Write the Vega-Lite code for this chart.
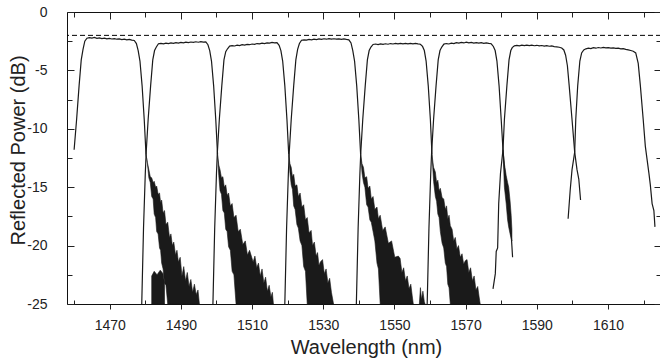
{
  "$schema": "https://vega.github.io/schema/vega-lite/v6.json",
  "width": 594,
  "height": 292,
  "autosize": {"type": "none"},
  "padding": {"left": 67, "top": 12, "right": 0, "bottom": 54},
  "datasets": {
    "lines": [
      {"c":1,"x":1460.0,"y":-11.8},{"c":1,"x":1460.7,"y":-9.2},{"c":1,"x":1461.4,"y":-6.3},{"c":1,"x":1462.0,"y":-4.1},{"c":1,"x":1462.5,"y":-3.2},{"c":1,"x":1463.0,"y":-2.5},
      {"c":1,"x":1463.6,"y":-2.24},{"c":1,"x":1464.3,"y":-2.19},{"c":1,"x":1465.0,"y":-2.23},{"c":1,"x":1465.7,"y":-2.18},{"c":1,"x":1466.4,"y":-2.25},{"c":1,"x":1467.1,"y":-2.21},{"c":1,"x":1467.8,"y":-2.27},{"c":1,"x":1468.5,"y":-2.24},{"c":1,"x":1469.2,"y":-2.3},{"c":1,"x":1469.9,"y":-2.26},{"c":1,"x":1470.6,"y":-2.31},{"c":1,"x":1471.3,"y":-2.28},{"c":1,"x":1472.0,"y":-2.33},{"c":1,"x":1472.7,"y":-2.3},{"c":1,"x":1473.4,"y":-2.36},{"c":1,"x":1474.1,"y":-2.33},{"c":1,"x":1474.8,"y":-2.38},{"c":1,"x":1475.5,"y":-2.35},{"c":1,"x":1476.2,"y":-2.41},{"c":1,"x":1476.9,"y":-2.44},
      {"c":1,"x":1477.5,"y":-2.7},{"c":1,"x":1478.0,"y":-3.3},{"c":1,"x":1478.5,"y":-4.2},{"c":1,"x":1479.1,"y":-6.3},{"c":1,"x":1479.7,"y":-9.2},{"c":1,"x":1480.2,"y":-12.2},

      {"c":2,"x":1479.0,"y":-25},{"c":2,"x":1479.5,"y":-18.5},{"c":2,"x":1480.0,"y":-13.8},{"c":2,"x":1480.25,"y":-12},{"c":2,"x":1480.8,"y":-9.2},{"c":2,"x":1481.5,"y":-6.3},{"c":2,"x":1482.1,"y":-4.1},{"c":2,"x":1482.6,"y":-3.3},{"c":2,"x":1483.1,"y":-3.0},
      {"c":2,"x":1483.7,"y":-2.72},{"c":2,"x":1484.4,"y":-2.68},{"c":2,"x":1485.1,"y":-2.73},{"c":2,"x":1485.8,"y":-2.66},{"c":2,"x":1486.5,"y":-2.7},{"c":2,"x":1487.2,"y":-2.64},{"c":2,"x":1487.9,"y":-2.68},{"c":2,"x":1488.6,"y":-2.62},{"c":2,"x":1489.3,"y":-2.66},{"c":2,"x":1490.0,"y":-2.6},{"c":2,"x":1490.7,"y":-2.64},{"c":2,"x":1491.4,"y":-2.58},{"c":2,"x":1492.1,"y":-2.62},{"c":2,"x":1492.8,"y":-2.57},{"c":2,"x":1493.5,"y":-2.6},{"c":2,"x":1494.2,"y":-2.55},{"c":2,"x":1494.9,"y":-2.59},{"c":2,"x":1495.6,"y":-2.54},{"c":2,"x":1496.3,"y":-2.58},{"c":2,"x":1497.0,"y":-2.56},
      {"c":2,"x":1497.6,"y":-2.8},{"c":2,"x":1498.1,"y":-3.3},{"c":2,"x":1498.6,"y":-4.2},{"c":2,"x":1499.2,"y":-6.3},{"c":2,"x":1499.8,"y":-9.2},{"c":2,"x":1500.3,"y":-12.2},

      {"c":3,"x":1499.0,"y":-25},{"c":3,"x":1499.5,"y":-18.5},{"c":3,"x":1500.0,"y":-13.8},{"c":3,"x":1500.25,"y":-12},{"c":3,"x":1500.8,"y":-9.2},{"c":3,"x":1501.5,"y":-6.3},{"c":3,"x":1502.1,"y":-4.1},{"c":3,"x":1502.6,"y":-3.4},{"c":3,"x":1503.1,"y":-3.15},
      {"c":3,"x":1503.7,"y":-2.92},{"c":3,"x":1504.4,"y":-2.88},{"c":3,"x":1505.1,"y":-2.91},{"c":3,"x":1505.8,"y":-2.84},{"c":3,"x":1506.5,"y":-2.87},{"c":3,"x":1507.2,"y":-2.8},{"c":3,"x":1507.9,"y":-2.83},{"c":3,"x":1508.6,"y":-2.77},{"c":3,"x":1509.3,"y":-2.8},{"c":3,"x":1510.0,"y":-2.74},{"c":3,"x":1510.7,"y":-2.77},{"c":3,"x":1511.4,"y":-2.7},{"c":3,"x":1512.1,"y":-2.73},{"c":3,"x":1512.8,"y":-2.67},{"c":3,"x":1513.5,"y":-2.7},{"c":3,"x":1514.2,"y":-2.64},{"c":3,"x":1514.9,"y":-2.67},{"c":3,"x":1515.6,"y":-2.61},{"c":3,"x":1516.3,"y":-2.64},{"c":3,"x":1517.0,"y":-2.62},
      {"c":3,"x":1517.6,"y":-2.85},{"c":3,"x":1518.1,"y":-3.3},{"c":3,"x":1518.6,"y":-4.2},{"c":3,"x":1519.2,"y":-6.3},{"c":3,"x":1519.8,"y":-9.2},{"c":3,"x":1520.3,"y":-12.2},

      {"c":4,"x":1519.2,"y":-25},{"c":4,"x":1519.7,"y":-18.5},{"c":4,"x":1520.2,"y":-13.8},{"c":4,"x":1520.45,"y":-12},{"c":4,"x":1521.0,"y":-9.2},{"c":4,"x":1521.7,"y":-6.3},{"c":4,"x":1522.3,"y":-4.1},{"c":4,"x":1522.8,"y":-3.2},{"c":4,"x":1523.3,"y":-2.7},
      {"c":4,"x":1523.9,"y":-2.42},{"c":4,"x":1524.6,"y":-2.38},{"c":4,"x":1525.3,"y":-2.41},{"c":4,"x":1526.0,"y":-2.35},{"c":4,"x":1526.7,"y":-2.38},{"c":4,"x":1527.4,"y":-2.33},{"c":4,"x":1528.1,"y":-2.36},{"c":4,"x":1528.8,"y":-2.3},{"c":4,"x":1529.5,"y":-2.34},{"c":4,"x":1530.2,"y":-2.29},{"c":4,"x":1530.9,"y":-2.33},{"c":4,"x":1531.6,"y":-2.28},{"c":4,"x":1532.3,"y":-2.32},{"c":4,"x":1533.0,"y":-2.29},{"c":4,"x":1533.7,"y":-2.33},{"c":4,"x":1534.4,"y":-2.3},{"c":4,"x":1535.1,"y":-2.34},{"c":4,"x":1535.8,"y":-2.31},{"c":4,"x":1536.5,"y":-2.35},{"c":4,"x":1537.2,"y":-2.38},
      {"c":4,"x":1537.8,"y":-2.65},{"c":4,"x":1538.3,"y":-3.3},{"c":4,"x":1538.8,"y":-4.2},{"c":4,"x":1539.4,"y":-6.3},{"c":4,"x":1540.0,"y":-9.2},{"c":4,"x":1540.5,"y":-12.2},

      {"c":5,"x":1539.3,"y":-25},{"c":5,"x":1539.8,"y":-18.5},{"c":5,"x":1540.3,"y":-13.8},{"c":5,"x":1540.55,"y":-12},{"c":5,"x":1541.1,"y":-9.2},{"c":5,"x":1541.8,"y":-6.3},{"c":5,"x":1542.4,"y":-4.1},{"c":5,"x":1542.9,"y":-3.3},{"c":5,"x":1543.4,"y":-3.0},
      {"c":5,"x":1544.0,"y":-2.78},{"c":5,"x":1544.7,"y":-2.74},{"c":5,"x":1545.4,"y":-2.79},{"c":5,"x":1546.1,"y":-2.73},{"c":5,"x":1546.8,"y":-2.77},{"c":5,"x":1547.5,"y":-2.72},{"c":5,"x":1548.2,"y":-2.76},{"c":5,"x":1548.9,"y":-2.7},{"c":5,"x":1549.6,"y":-2.74},{"c":5,"x":1550.3,"y":-2.69},{"c":5,"x":1551.0,"y":-2.73},{"c":5,"x":1551.7,"y":-2.68},{"c":5,"x":1552.4,"y":-2.72},{"c":5,"x":1553.1,"y":-2.69},{"c":5,"x":1553.8,"y":-2.73},{"c":5,"x":1554.5,"y":-2.68},{"c":5,"x":1555.2,"y":-2.72},{"c":5,"x":1555.9,"y":-2.69},{"c":5,"x":1556.6,"y":-2.73},{"c":5,"x":1557.3,"y":-2.76},
      {"c":5,"x":1557.9,"y":-2.95},{"c":5,"x":1558.4,"y":-3.3},{"c":5,"x":1558.9,"y":-4.2},{"c":5,"x":1559.5,"y":-6.3},{"c":5,"x":1560.1,"y":-9.2},{"c":5,"x":1560.55,"y":-12.2},

      {"c":6,"x":1559.2,"y":-25},{"c":6,"x":1559.7,"y":-18.5},{"c":6,"x":1560.2,"y":-13.8},{"c":6,"x":1560.45,"y":-12},{"c":6,"x":1561.0,"y":-9.2},{"c":6,"x":1561.7,"y":-6.3},{"c":6,"x":1562.3,"y":-4.1},{"c":6,"x":1562.8,"y":-3.3},{"c":6,"x":1563.3,"y":-3.0},
      {"c":6,"x":1563.9,"y":-2.75},{"c":6,"x":1564.6,"y":-2.7},{"c":6,"x":1565.3,"y":-2.74},{"c":6,"x":1566.0,"y":-2.66},{"c":6,"x":1566.7,"y":-2.7},{"c":6,"x":1567.4,"y":-2.62},{"c":6,"x":1568.1,"y":-2.67},{"c":6,"x":1568.8,"y":-2.6},{"c":6,"x":1569.5,"y":-2.65},{"c":6,"x":1570.2,"y":-2.58},{"c":6,"x":1570.9,"y":-2.64},{"c":6,"x":1571.6,"y":-2.6},{"c":6,"x":1572.3,"y":-2.66},{"c":6,"x":1573.0,"y":-2.62},{"c":6,"x":1573.7,"y":-2.67},{"c":6,"x":1574.4,"y":-2.63},{"c":6,"x":1575.1,"y":-2.68},{"c":6,"x":1575.8,"y":-2.65},{"c":6,"x":1576.5,"y":-2.69},{"c":6,"x":1577.2,"y":-2.72},
      {"c":6,"x":1577.8,"y":-2.95},{"c":6,"x":1578.3,"y":-3.3},{"c":6,"x":1578.8,"y":-4.2},{"c":6,"x":1579.4,"y":-6.3},{"c":6,"x":1580.0,"y":-9.2},{"c":6,"x":1580.5,"y":-11.8},
      {"c":6,"x":1581.2,"y":-14.5},{"c":6,"x":1582.0,"y":-16.8},{"c":6,"x":1582.8,"y":-19.0},{"c":6,"x":1583.0,"y":-20.0},{"c":6,"x":1583.2,"y":-21.0},

      {"c":7,"x":1577.7,"y":-23.7},{"c":7,"x":1578.35,"y":-22.4},{"c":7,"x":1578.6,"y":-20.5},{"c":7,"x":1579.0,"y":-20.2},{"c":7,"x":1579.3,"y":-16.4},{"c":7,"x":1579.8,"y":-13.8},{"c":7,"x":1580.5,"y":-11.8},{"c":7,"x":1580.9,"y":-9.2},{"c":7,"x":1581.6,"y":-6.3},{"c":7,"x":1582.2,"y":-4.1},{"c":7,"x":1582.7,"y":-3.3},{"c":7,"x":1583.1,"y":-3.05},
      {"c":7,"x":1583.7,"y":-2.9},{"c":7,"x":1584.4,"y":-2.86},{"c":7,"x":1585.1,"y":-2.9},{"c":7,"x":1585.8,"y":-2.84},{"c":7,"x":1586.5,"y":-2.88},{"c":7,"x":1587.2,"y":-2.83},{"c":7,"x":1587.9,"y":-2.87},{"c":7,"x":1588.6,"y":-2.84},{"c":7,"x":1589.3,"y":-2.89},{"c":7,"x":1590.0,"y":-2.85},{"c":7,"x":1590.7,"y":-2.9},{"c":7,"x":1591.4,"y":-2.87},{"c":7,"x":1592.1,"y":-2.92},{"c":7,"x":1592.8,"y":-2.88},{"c":7,"x":1593.5,"y":-2.93},{"c":7,"x":1594.2,"y":-2.9},{"c":7,"x":1594.9,"y":-2.96},{"c":7,"x":1595.6,"y":-2.98},{"c":7,"x":1596.3,"y":-3.02},{"c":7,"x":1597.0,"y":-3.08},
      {"c":7,"x":1597.6,"y":-3.25},{"c":7,"x":1598.1,"y":-3.7},{"c":7,"x":1598.6,"y":-4.6},{"c":7,"x":1599.1,"y":-6.3},{"c":7,"x":1599.9,"y":-9.2},{"c":7,"x":1600.65,"y":-12.0},{"c":7,"x":1601.3,"y":-13.5},{"c":7,"x":1601.8,"y":-14.3},{"c":7,"x":1602.3,"y":-16.1},

      {"c":8,"x":1598.8,"y":-17.7},{"c":8,"x":1599.4,"y":-15.2},{"c":8,"x":1599.9,"y":-13.5},{"c":8,"x":1600.65,"y":-12.0},{"c":8,"x":1600.95,"y":-9.2},{"c":8,"x":1601.5,"y":-6.3},{"c":8,"x":1602.1,"y":-4.2},{"c":8,"x":1602.6,"y":-3.5},{"c":8,"x":1603.2,"y":-3.25},
      {"c":8,"x":1603.8,"y":-3.15},{"c":8,"x":1604.5,"y":-3.1},{"c":8,"x":1605.2,"y":-3.14},{"c":8,"x":1605.9,"y":-3.06},{"c":8,"x":1606.6,"y":-3.1},{"c":8,"x":1607.3,"y":-3.04},{"c":8,"x":1608.0,"y":-3.08},{"c":8,"x":1608.7,"y":-3.03},{"c":8,"x":1609.4,"y":-3.07},{"c":8,"x":1610.1,"y":-3.05},{"c":8,"x":1610.8,"y":-3.1},{"c":8,"x":1611.5,"y":-3.07},{"c":8,"x":1612.2,"y":-3.12},{"c":8,"x":1612.9,"y":-3.1},{"c":8,"x":1613.6,"y":-3.15},{"c":8,"x":1614.3,"y":-3.14},{"c":8,"x":1615.0,"y":-3.2},{"c":8,"x":1615.7,"y":-3.24},{"c":8,"x":1616.4,"y":-3.3},{"c":8,"x":1617.1,"y":-3.36},
      {"c":8,"x":1617.8,"y":-3.5},{"c":8,"x":1618.5,"y":-4.4},{"c":8,"x":1619.1,"y":-6.3},{"c":8,"x":1619.9,"y":-9.2},{"c":8,"x":1620.5,"y":-11.5},{"c":8,"x":1621.5,"y":-13.8},{"c":8,"x":1621.9,"y":-14.8},{"c":8,"x":1622.4,"y":-16.4},{"c":8,"x":1622.9,"y":-17.0},{"c":8,"x":1623.2,"y":-18.4}
    ],
    "tails": [
      {"g":"1","x":1480.2,"lo":-12.2,"hi":-12.2},{"g":"1","x":1480.6,"lo":-13.0,"hi":-12.9},{"g":"1","x":1481.0,"lo":-14.2,"hi":-13.5},{"g":"1","x":1481.4,"lo":-14.6,"hi":-14.1},{"g":"1","x":1481.8,"lo":-15.8,"hi":-14.2},{"g":"1","x":1482.2,"lo":-16.0,"hi":-14.6},{"g":"1","x":1482.5,"lo":-17.3,"hi":-14.5},{"g":"1","x":1482.9,"lo":-17.6,"hi":-15.0},{"g":"1","x":1483.2,"lo":-18.8,"hi":-14.9},{"g":"1","x":1483.6,"lo":-19.0,"hi":-15.6},{"g":"1","x":1484.0,"lo":-20.2,"hi":-15.5},{"g":"1","x":1484.3,"lo":-20.4,"hi":-16.3},{"g":"1","x":1484.6,"lo":-21.5,"hi":-16.1},{"g":"1","x":1485.0,"lo":-22.0,"hi":-17.2},{"g":"1","x":1485.4,"lo":-23.2,"hi":-17.0},{"g":"1","x":1485.8,"lo":-23.4,"hi":-18.2},{"g":"1","x":1486.3,"lo":-25,"hi":-18.0},{"g":"1","x":1486.8,"lo":-25,"hi":-19.3},{"g":"1","x":1487.2,"lo":-25,"hi":-19.0},{"g":"1","x":1487.6,"lo":-25,"hi":-20.0},{"g":"1","x":1488.0,"lo":-25,"hi":-19.7},{"g":"1","x":1488.5,"lo":-25,"hi":-20.8},{"g":"1","x":1488.9,"lo":-25,"hi":-20.4},{"g":"1","x":1489.3,"lo":-25,"hi":-21.4},{"g":"1","x":1489.8,"lo":-25,"hi":-21.0},{"g":"1","x":1490.3,"lo":-25,"hi":-22.6},{"g":"1","x":1490.8,"lo":-25,"hi":-21.8},{"g":"1","x":1491.3,"lo":-25,"hi":-23.0},{"g":"1","x":1491.8,"lo":-25,"hi":-22.3},{"g":"1","x":1492.3,"lo":-25,"hi":-23.5},{"g":"1","x":1492.8,"lo":-25,"hi":-22.9},{"g":"1","x":1493.3,"lo":-25,"hi":-24.0},{"g":"1","x":1493.8,"lo":-25,"hi":-23.3},{"g":"1","x":1494.3,"lo":-25,"hi":-24.2},{"g":"1","x":1494.8,"lo":-25,"hi":-23.8},{"g":"1","x":1495.2,"lo":-25,"hi":-25},
      {"g":"1b","x":1481.8,"lo":-25,"hi":-22.6},{"g":"1b","x":1482.5,"lo":-25,"hi":-22.2},{"g":"1b","x":1483.3,"lo":-25,"hi":-22.5},{"g":"1b","x":1484.2,"lo":-25,"hi":-22.1},{"g":"1b","x":1485.0,"lo":-25,"hi":-22.4},{"g":"1b","x":1485.4,"lo":-25,"hi":-23.2},
      {"g":"2","x":1500.3,"lo":-12.2,"hi":-12.2},{"g":"2","x":1500.65,"lo":-14.0,"hi":-13.1},{"g":"2","x":1501.0,"lo":-15.3,"hi":-13.5},{"g":"2","x":1501.4,"lo":-15.6,"hi":-14.2},{"g":"2","x":1501.8,"lo":-17.0,"hi":-14.1},{"g":"2","x":1502.2,"lo":-17.2,"hi":-15.0},{"g":"2","x":1502.6,"lo":-18.6,"hi":-14.8},{"g":"2","x":1503.0,"lo":-18.8,"hi":-15.7},{"g":"2","x":1503.4,"lo":-20.1,"hi":-15.5},{"g":"2","x":1503.9,"lo":-20.4,"hi":-16.6},{"g":"2","x":1504.4,"lo":-22.2,"hi":-16.4},{"g":"2","x":1504.9,"lo":-22.5,"hi":-17.6},{"g":"2","x":1505.5,"lo":-25,"hi":-17.4},{"g":"2","x":1506.1,"lo":-25,"hi":-18.8},{"g":"2","x":1506.7,"lo":-25,"hi":-18.6},{"g":"2","x":1507.4,"lo":-25,"hi":-19.9},{"g":"2","x":1508.1,"lo":-25,"hi":-19.6},{"g":"2","x":1508.7,"lo":-25,"hi":-20.8},{"g":"2","x":1509.3,"lo":-25,"hi":-20.4},{"g":"2","x":1510.3,"lo":-25,"hi":-21.4},{"g":"2","x":1510.8,"lo":-25,"hi":-20.9},{"g":"2","x":1511.3,"lo":-25,"hi":-21.9},{"g":"2","x":1511.8,"lo":-25,"hi":-21.5},{"g":"2","x":1512.3,"lo":-25,"hi":-22.6},{"g":"2","x":1512.8,"lo":-25,"hi":-22.0},{"g":"2","x":1513.3,"lo":-25,"hi":-23.2},{"g":"2","x":1513.8,"lo":-25,"hi":-22.7},{"g":"2","x":1514.3,"lo":-25,"hi":-23.9},{"g":"2","x":1514.8,"lo":-25,"hi":-23.4},{"g":"2","x":1515.3,"lo":-25,"hi":-24.4},{"g":"2","x":1515.7,"lo":-25,"hi":-24.0},{"g":"2","x":1516.0,"lo":-25,"hi":-25},
      {"g":"3","x":1520.3,"lo":-12.2,"hi":-12.2},{"g":"3","x":1520.65,"lo":-13.8,"hi":-13.0},{"g":"3","x":1521.0,"lo":-14.8,"hi":-13.3},{"g":"3","x":1521.35,"lo":-15.2,"hi":-14.1},{"g":"3","x":1521.7,"lo":-16.6,"hi":-13.9},{"g":"3","x":1522.1,"lo":-16.9,"hi":-14.9},{"g":"3","x":1522.6,"lo":-18.2,"hi":-14.8},{"g":"3","x":1523.0,"lo":-18.5,"hi":-15.8},{"g":"3","x":1523.5,"lo":-19.6,"hi":-15.5},{"g":"3","x":1524.0,"lo":-20.0,"hi":-16.7},{"g":"3","x":1524.5,"lo":-21.8,"hi":-16.5},{"g":"3","x":1525.0,"lo":-22.2,"hi":-17.8},{"g":"3","x":1525.5,"lo":-25,"hi":-17.6},{"g":"3","x":1526.0,"lo":-25,"hi":-18.9},{"g":"3","x":1526.6,"lo":-25,"hi":-18.7},{"g":"3","x":1527.0,"lo":-25,"hi":-20.0},{"g":"3","x":1527.5,"lo":-25,"hi":-19.7},{"g":"3","x":1528.0,"lo":-25,"hi":-20.9},{"g":"3","x":1528.4,"lo":-25,"hi":-20.6},{"g":"3","x":1528.8,"lo":-25,"hi":-21.7},{"g":"3","x":1529.2,"lo":-25,"hi":-21.4},{"g":"3","x":1529.8,"lo":-25,"hi":-21.2},{"g":"3","x":1530.3,"lo":-25,"hi":-22.4},{"g":"3","x":1530.8,"lo":-25,"hi":-22.0},{"g":"3","x":1531.3,"lo":-25,"hi":-23.2},{"g":"3","x":1531.8,"lo":-25,"hi":-22.8},{"g":"3","x":1532.3,"lo":-25,"hi":-24.0},{"g":"3","x":1532.9,"lo":-25,"hi":-25},
      {"g":"4","x":1540.5,"lo":-12.2,"hi":-12.2},{"g":"4","x":1540.9,"lo":-13.8,"hi":-13.0},{"g":"4","x":1541.3,"lo":-14.6,"hi":-13.3},{"g":"4","x":1541.7,"lo":-15.0,"hi":-14.2},{"g":"4","x":1542.2,"lo":-16.5,"hi":-14.1},{"g":"4","x":1542.6,"lo":-16.7,"hi":-15.1},{"g":"4","x":1543.1,"lo":-17.8,"hi":-14.9},{"g":"4","x":1543.5,"lo":-18.0,"hi":-16.0},{"g":"4","x":1544.0,"lo":-18.8,"hi":-15.8},{"g":"4","x":1544.5,"lo":-19.6,"hi":-16.9},{"g":"4","x":1545.1,"lo":-21.5,"hi":-16.7},{"g":"4","x":1545.5,"lo":-22.0,"hi":-17.7},{"g":"4","x":1546.0,"lo":-25,"hi":-17.4},{"g":"4","x":1546.7,"lo":-25,"hi":-18.7},{"g":"4","x":1547.4,"lo":-25,"hi":-18.4},{"g":"4","x":1548.3,"lo":-25,"hi":-19.8},{"g":"4","x":1549.2,"lo":-25,"hi":-19.6},{"g":"4","x":1550.1,"lo":-25,"hi":-21.0},{"g":"4","x":1551.1,"lo":-25,"hi":-20.9},{"g":"4","x":1551.6,"lo":-25,"hi":-21.1},{"g":"4","x":1552.1,"lo":-25,"hi":-22.3},{"g":"4","x":1552.6,"lo":-25,"hi":-21.9},{"g":"4","x":1553.1,"lo":-25,"hi":-23.0},{"g":"4","x":1553.6,"lo":-25,"hi":-22.6},{"g":"4","x":1554.1,"lo":-25,"hi":-23.7},{"g":"4","x":1554.6,"lo":-25,"hi":-23.3},{"g":"4","x":1555.0,"lo":-25,"hi":-24.3},{"g":"4","x":1555.3,"lo":-25,"hi":-25},
      {"g":"4b","x":1557.0,"lo":-25,"hi":-25},{"g":"4b","x":1557.3,"lo":-25,"hi":-23.6},{"g":"4b","x":1557.6,"lo":-25,"hi":-24.6},{"g":"4b","x":1558.0,"lo":-25,"hi":-23.9},{"g":"4b","x":1558.4,"lo":-25,"hi":-24.8},{"g":"4b","x":1558.6,"lo":-25,"hi":-25},
      {"g":"5","x":1560.55,"lo":-12.2,"hi":-12.2},{"g":"5","x":1561.0,"lo":-14.5,"hi":-13.3},{"g":"5","x":1561.5,"lo":-15.8,"hi":-13.7},{"g":"5","x":1561.85,"lo":-16.2,"hi":-14.6},{"g":"5","x":1562.2,"lo":-17.3,"hi":-14.4},{"g":"5","x":1562.55,"lo":-17.6,"hi":-15.3},{"g":"5","x":1562.9,"lo":-18.8,"hi":-15.1},{"g":"5","x":1563.4,"lo":-19.8,"hi":-15.9},{"g":"5","x":1563.85,"lo":-20.2,"hi":-16.0},{"g":"5","x":1564.3,"lo":-21.5,"hi":-16.9},{"g":"5","x":1564.65,"lo":-21.8,"hi":-16.6},{"g":"5","x":1565.0,"lo":-23.3,"hi":-17.7},{"g":"5","x":1565.35,"lo":-23.6,"hi":-17.4},{"g":"5","x":1565.7,"lo":-25,"hi":-18.3},{"g":"5","x":1566.2,"lo":-25,"hi":-18.6},{"g":"5","x":1566.65,"lo":-25,"hi":-19.6},{"g":"5","x":1567.1,"lo":-25,"hi":-19.3},{"g":"5","x":1567.55,"lo":-25,"hi":-20.3},{"g":"5","x":1568.0,"lo":-25,"hi":-20.0},{"g":"5","x":1568.5,"lo":-25,"hi":-21.0},{"g":"5","x":1569.0,"lo":-25,"hi":-20.7},{"g":"5","x":1569.45,"lo":-25,"hi":-21.6},{"g":"5","x":1569.9,"lo":-25,"hi":-21.3},{"g":"5","x":1570.4,"lo":-25,"hi":-21.2},{"g":"5","x":1570.9,"lo":-25,"hi":-22.3},{"g":"5","x":1571.4,"lo":-25,"hi":-21.9},{"g":"5","x":1571.9,"lo":-25,"hi":-23.0},{"g":"5","x":1572.4,"lo":-25,"hi":-22.6},{"g":"5","x":1572.9,"lo":-25,"hi":-23.8},{"g":"5","x":1573.4,"lo":-25,"hi":-23.5},{"g":"5","x":1573.8,"lo":-25,"hi":-24.4},{"g":"5","x":1574.1,"lo":-25,"hi":-25},
      {"g":"6","x":1580.5,"lo":-11.8,"hi":-11.8},{"g":"6","x":1580.9,"lo":-15.0,"hi":-13.0},{"g":"6","x":1581.4,"lo":-16.4,"hi":-14.0},{"g":"6","x":1581.8,"lo":-17.8,"hi":-14.6},{"g":"6","x":1582.1,"lo":-18.4,"hi":-15.0},{"g":"6","x":1582.5,"lo":-19.0,"hi":-16.2},{"g":"6","x":1582.8,"lo":-19.4,"hi":-17.4},{"g":"6","x":1583.0,"lo":-19.6,"hi":-18.6}
    ]
  },
  "config": {
    "view": {"stroke": "#111", "strokeWidth": 1},
    "axis": {
      "grid": false,
      "domain": false,
      "labelFont": "Liberation Sans",
      "titleFont": "Liberation Sans",
      "labelColor": "#222",
      "titleColor": "#222",
      "tickColor": "#222",
      "tickWidth": 1,
      "labelFlush": false,
      "labelOverlap": false,
      "titleFontWeight": "normal"
    }
  },
  "resolve": {"axis": {"x": "independent", "y": "independent"}},
  "layer": [
    {
      "data": {"name": "tails"},
      "mark": {"type": "area", "color": "#1a1a1a", "stroke": "#1a1a1a", "strokeWidth": 0.6, "clip": true},
      "encoding": {
        "x": {
          "field": "x", "type": "quantitative",
          "scale": {"domain": [1458, 1624.9], "nice": false, "zero": false},
          "axis": {
            "orient": "bottom",
            "values": [1460,1470,1480,1490,1500,1510,1520,1530,1540,1550,1560,1570,1580,1590,1600,1610,1620],
            "labelExpr": "datum.value % 20 == 10 ? toString(datum.value) : ''",
            "tickSize": {"condition": {"test": "datum.value % 20 == 10", "value": 5}, "value": -4},
            "labelPadding": 9,
            "labelFontSize": 14,
            "title": "Wavelength (nm)",
            "titleFontSize": 20,
            "titleX": 299,
            "titleY": 49,
            "titleAlign": "center",
            "titleBaseline": "alphabetic"
          }
        },
        "y": {
          "field": "lo", "type": "quantitative",
          "scale": {"domain": [-25, 0], "nice": false, "zero": false},
          "axis": {
            "orient": "left",
            "values": [-25,-22.5,-20,-17.5,-15,-12.5,-10,-7.5,-5,-2.5,0],
            "labelExpr": "datum.value % 5 == 0 ? toString(datum.value) : ''",
            "tickSize": {"condition": {"test": "datum.value % 5 == 0", "value": -7}, "value": -5},
            "labelPadding": 27,
            "labelFontSize": 14,
            "title": "Reflected Power (dB)",
            "titleFontSize": 20,
            "titleX": -43,
            "titleY": 138,
            "titleAngle": 270,
            "titleAlign": "center",
            "titleBaseline": "alphabetic"
          }
        },
        "y2": {"field": "hi"},
        "detail": {"field": "g"}
      }
    },
    {
      "data": {"name": "lines"},
      "mark": {"type": "line", "color": "#1a1a1a", "strokeWidth": 1.2, "clip": true},
      "encoding": {
        "x": {
          "field": "x", "type": "quantitative",
          "axis": {
            "orient": "top",
            "values": [1460,1470,1480,1490,1500,1510,1520,1530,1540,1550,1560,1570,1580,1590,1600,1610,1620],
            "labels": false,
            "title": null,
            "tickSize": {"condition": {"test": "datum.value % 20 == 10", "value": -7}, "value": -5}
          }
        },
        "y": {
          "field": "y", "type": "quantitative",
          "axis": {
            "orient": "right",
            "values": [-25,-22.5,-20,-17.5,-15,-12.5,-10,-7.5,-5,-2.5,0],
            "labels": false,
            "title": null,
            "tickSize": {"condition": {"test": "datum.value % 5 == 0", "value": -7}, "value": -5}
          }
        },
        "detail": {"field": "c"}
      }
    },
    {
      "data": {"values": [{}]},
      "mark": {"type": "rule", "strokeDash": [5, 3], "color": "#000", "strokeWidth": 1},
      "encoding": {"y": {"datum": -2, "axis": null}}
    }
  ]
}
